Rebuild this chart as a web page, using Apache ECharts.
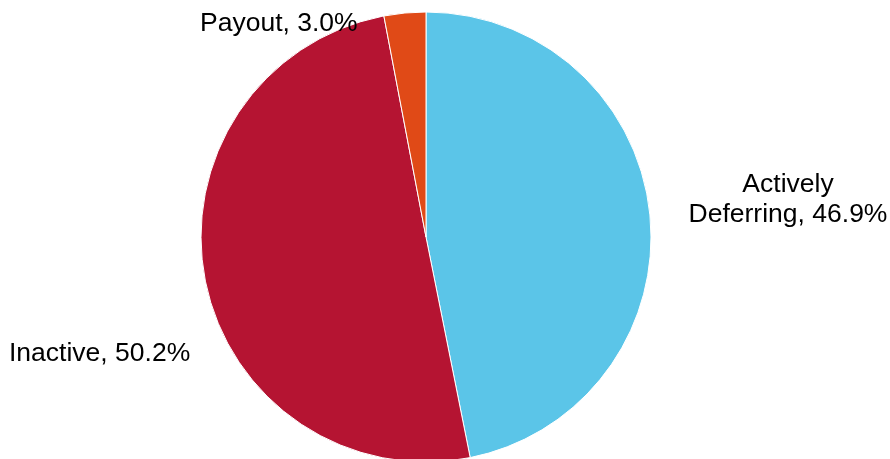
<!DOCTYPE html>
<html>
<head>
<meta charset="utf-8">
<script src="https://cdn.jsdelivr.net/npm/echarts@6/dist/echarts.min.js"></script>
<style>
  html, body { margin: 0; padding: 0; background: #fff; }
  #chart { width: 890px; height: 459px; }
</style>
</head>
<body>
<div id="chart"></div>
<script>
// Share of accounts by status
const categories = ['Actively\nDeferring', 'Inactive', 'Payout'];
const shares = [46.9, 50.2, 3.0];
const colors = ['#5BC5E8', '#B51432', '#E04A17'];

// Label anchor points (left/center x, middle y) per slice
const labelSpots = [
  { x: 788, y: 200, align: 'center' },
  { x: 9, y: 354, align: 'left' },
  { x: 200, y: 24, align: 'left' }
];

const chart = echarts.init(document.getElementById('chart'));
chart.setOption({
  animation: false,
  series: [{
    type: 'pie',
    center: [426, 237],
    radius: 225,
    startAngle: 90,
    clockwise: true,
    data: categories.map((name, i) => ({
      name: name,
      value: shares[i],
      itemStyle: { color: colors[i] }
    })),
    itemStyle: { borderColor: '#ffffff', borderWidth: 1 },
    label: {
      show: true,
      position: 'outside',
      formatter: p => p.name + ', ' + p.value.toFixed(1) + '%',
      fontFamily: 'Liberation Sans, Arial, sans-serif',
      fontSize: 26.5,
      lineHeight: 30,
      color: '#000',
      align: 'center',
      overflow: 'none',
      width: 400
    },
    labelLine: { show: false },
    labelLayout: function (params) {
      const s = labelSpots[params.dataIndex];
      return { x: s.x, y: s.y, align: s.align, verticalAlign: 'middle', hideOverlap: false };
    },
    emphasis: { disabled: true }
  }]
});
</script>
</body>
</html>
